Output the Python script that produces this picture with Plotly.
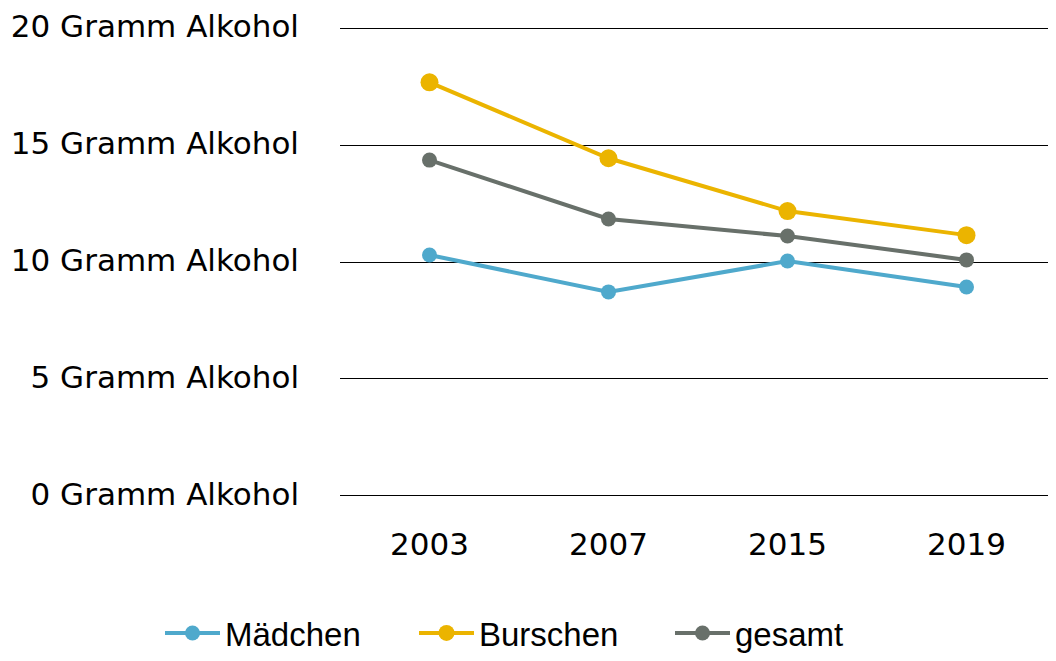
import plotly.graph_objects as go

years = ["2003", "2007", "2015", "2019"]
maedchen = [10.3, 8.72, 10.04, 8.93]
burschen = [17.69, 14.44, 12.18, 11.15]
gesamt = [14.36, 11.84, 11.11, 10.09]
y_ticks = [0, 5, 10, 15, 20]

series = [
    ("Mädchen", maedchen, "#4FA9CC", 15, "legend"),
    ("Burschen", burschen, "#EBB400", 18, "legend2"),
    ("gesamt", gesamt, "#68706A", 15, "legend3"),
]

fig = go.Figure()
for name, vals, color, msize, lg in series:
    fig.add_trace(go.Scatter(
        x=years, y=vals, name=name, mode="lines+markers",
        line=dict(color=color, width=4),
        marker=dict(color=color, size=msize),
        legend=lg,
    ))

W, H = 1048, 653
L, T, B = 332, 18, 163
PW = W - L


def legend_at(text_start_page):
    fig_x = text_start_page - 8 - 66
    return dict(orientation="h", x=(fig_x - L) / PW, xanchor="left",
                yref="container", y=-0.008, yanchor="bottom", itemwidth=55,
                font=dict(family="Liberation Sans", size=33),
                bgcolor="rgba(0,0,0,0)")


fig.update_layout(
    width=W, height=H,
    margin=dict(l=L, r=0, t=T, b=B),
    paper_bgcolor="white", plot_bgcolor="white",
    font=dict(family="DejaVu Sans", color="black", size=31),
    showlegend=True,
    legend=legend_at(226),
    legend2=legend_at(480),
    legend3=legend_at(736),
    xaxis=dict(type="category", range=[-0.5, 3.5], showgrid=False, zeroline=False,
               showline=False, ticks="", tickfont=dict(size=31), automargin=False,
               ticklabelstandoff=25),
    yaxis=dict(range=[-0.1, 20.1], tickvals=y_ticks,
               ticktext=[f"{v} Gramm Alkohol" for v in y_ticks],
               showgrid=True, gridcolor="black", gridwidth=1,
               zeroline=False, showline=False, ticks="", ticklabelstandoff=40,
               ticklabelshift=-2, ticklabeloverflow="allow",
               tickfont=dict(size=31), automargin=False),
)

fig.write_html("out.html")
